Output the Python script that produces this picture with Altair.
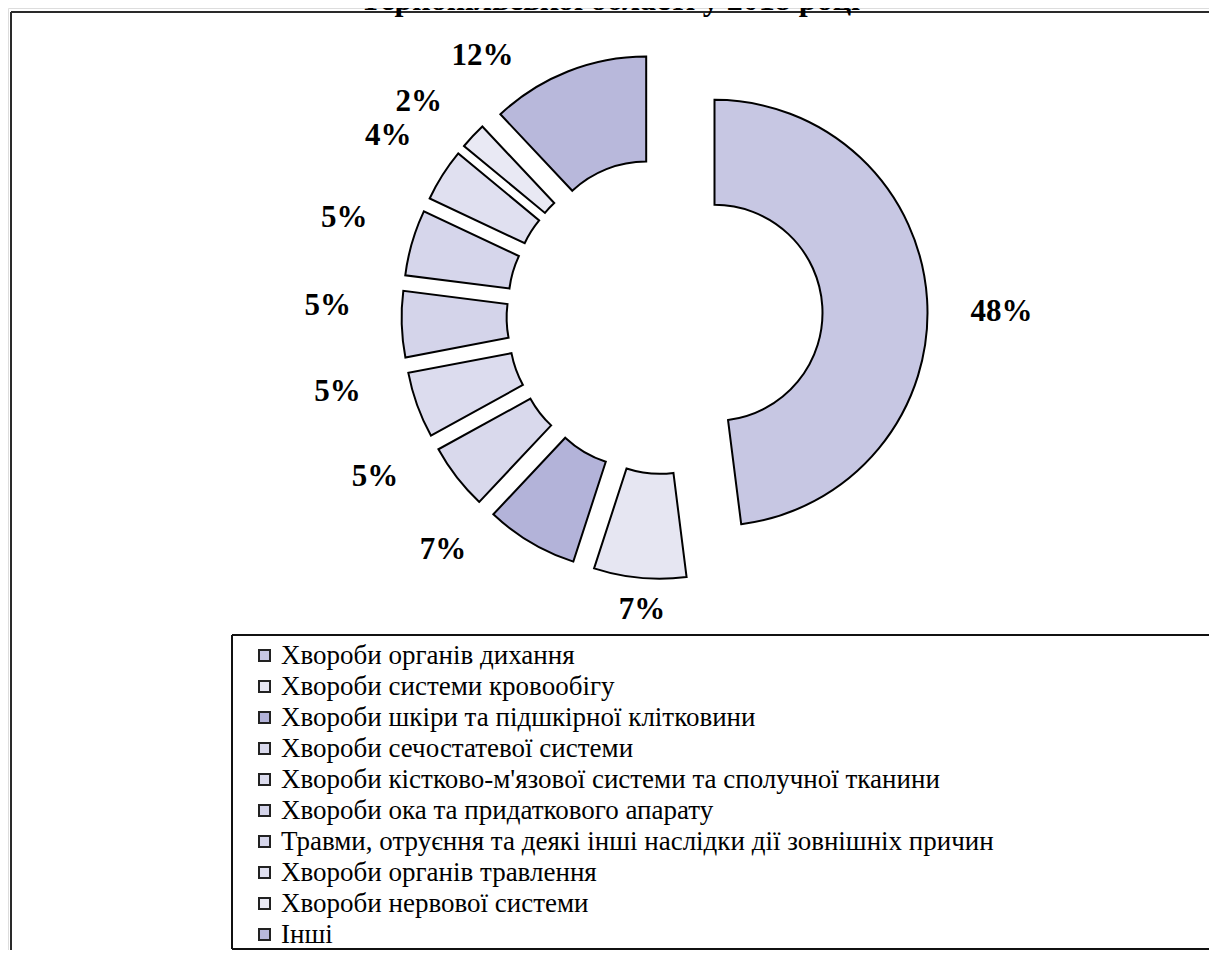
import math
import altair as alt
import pandas as pd

# ---- data -------------------------------------------------------------
CATEGORIES = [
    "Хвороби органів дихання",
    "Хвороби системи кровообігу",
    "Хвороби шкіри та підшкірної клітковини",
    "Хвороби сечостатевої системи",
    "Хвороби кістково-м'язової системи та сполучної тканини",
    "Хвороби ока та придаткового апарату",
    "Травми, отруєння та деякі інші наслідки дії  зовнішніх причин",
    "Хвороби органів травлення",
    "Хвороби нервової системи",
    "Інші",
]
VALUES = [48, 7, 7, 5, 5, 5, 5, 4, 2, 12]
TITLE_LINE = "Тернопільської області у 2018 році"

# ---- styles / layout ----------------------------------------------------
FILLS = [
    "#c7c7e3", "#e6e6f2", "#b3b3d9", "#d9d9ec", "#dcdcee",
    "#d4d4ea", "#d6d6eb", "#e0e0f0", "#e9e9f4", "#b8b8db",
]
W, H = 1201, 942
CX, CY = 656.6, 308.0      # donut centre (px)
EXPLODE = 50               # slice explosion (px)
R_OUT, R_IN = 213, 108
# "best fit" label placement: angular nudge (deg) per slice, radius grows sideways
LABEL_SHIFT = [3.0, -1.0, 12.8, 8.8, 6.7, 3.5, 0.8, 0.6, -2.2, -13.4]
LABEL_R0, LABEL_RSIDE = 291, 46
SERIF = "Liberation Serif"

df = pd.DataFrame({"cat": CATEGORIES, "value": VALUES, "order": list(range(len(VALUES)))})

shift_js = "[" + ",".join(str(s) for s in LABEL_SHIFT) + "]"

base = (
    alt.Chart(df)
    .transform_window(cum_end="sum(value)", sort=[alt.SortField("order")], frame=[None, 0])
    .transform_joinaggregate(total="sum(value)")
    .transform_calculate(cum_start="datum.cum_end - datum.value")
    .transform_calculate(mid="PI * (datum.cum_start + datum.cum_end) / datum.total")
    .transform_calculate(la=f"datum.mid + {shift_js}[datum.order] * PI / 180")
    .transform_calculate(lr=f"{LABEL_R0} + {LABEL_RSIDE} * abs(sin(datum.la))")
    .transform_calculate(
        cx=f"{CX} + {EXPLODE} * sin(datum.mid)",
        cy=f"{CY} - {EXPLODE} * cos(datum.mid)",
        lx=f"{CX} + datum.lr * sin(datum.la)",
        ly=f"{CY} - datum.lr * cos(datum.la)",
        label="format(datum.value, 'd') + '%'",
    )
)

arcs = base.mark_arc(radius=R_OUT, radius2=R_IN, stroke="black", strokeWidth=2).encode(
    x=alt.X("cx:Q", scale=None),
    y=alt.Y("cy:Q", scale=None),
    theta=alt.Theta("cum_start:Q", scale=alt.Scale(domain=[0, 100], range=[0, 2 * math.pi]), stack=False),
    theta2="cum_end:Q",
    fill=alt.Fill(
        "cat:N",
        scale=alt.Scale(domain=CATEGORIES, range=FILLS),
        legend=alt.Legend(
            title=None,
            orient="none",
            legendX=243,
            legendY=634,
            padding=0,
            symbolType="square",
            symbolSize=121,
            symbolStrokeColor="#222222",
            symbolStrokeWidth=2,
            symbolOpacity=1,
            labelFont=SERIF,
            labelFontSize=27,
            labelColor="black",
            labelLimit=0,
            labelOffset=3,
            rowPadding=3,
        ),
    ),
)

labels = base.mark_text(
    font=SERIF, fontWeight="bold", fontSize=31, color="black", align="center", baseline="middle"
).encode(
    x=alt.X("lx:Q", scale=None),
    y=alt.Y("ly:Q", scale=None),
    text="label:N",
)

one = alt.Data(values=[{}])
LINE = "#2a2a2a"

outer_top = alt.Chart(one).mark_rule(stroke=LINE, strokeWidth=2).encode(
    x=alt.value(3), x2=alt.value(W), y=alt.value(4)
)
outer_left = alt.Chart(one).mark_rule(stroke=LINE, strokeWidth=2).encode(
    x=alt.value(3), y=alt.value(4), y2=alt.value(H)
)
legend_top = alt.Chart(one).mark_rule(stroke="#111111", strokeWidth=2).encode(
    x=alt.value(224), x2=alt.value(W), y=alt.value(627)
)
legend_left = alt.Chart(one).mark_rule(stroke="#111111", strokeWidth=2).encode(
    x=alt.value(224), y=alt.value(627), y2=alt.value(H - 1)
)
legend_bottom = alt.Chart(one).mark_rule(stroke="#111111", strokeWidth=2).encode(
    x=alt.value(224), x2=alt.value(W), y=alt.value(H - 1)
)
title = alt.Chart(one).mark_text(
    text=TITLE_LINE, font=SERIF, fontWeight="bold", fontSize=32, align="center", baseline="alphabetic", color="black"
).encode(x=alt.value(602), y=alt.value(2))

chart = (
    alt.layer(outer_top, outer_left, legend_top, legend_left, legend_bottom, arcs, labels, title)
    .properties(width=W, height=H, padding=0, autosize=alt.AutoSizeParams(type="none"))
    .configure_view(strokeWidth=0, stroke="transparent")
    .configure_legend(labelFont=SERIF, labelFontSize=27, labelColor="black")
    .configure(background="white", font=SERIF)
)

chart.save("out.html", embed_options={"renderer": "svg", "actions": False})
